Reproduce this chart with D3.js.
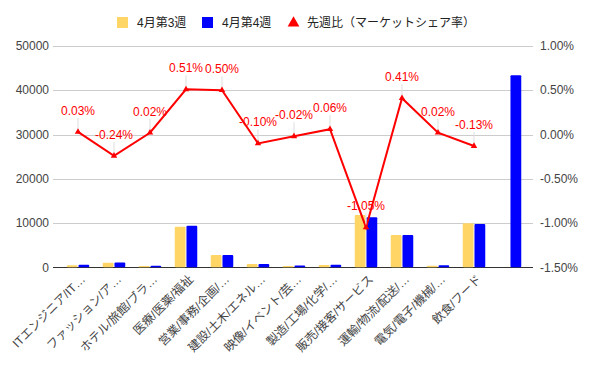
<!DOCTYPE html>
<html>
<head>
<meta charset="utf-8">
<script src="https://cdn.jsdelivr.net/npm/d3@7"></script>
<style>
  body { margin: 0; background: #fff; }
  text { font-family: "Liberation Sans", Arial, "Noto Sans CJK JP", sans-serif; }
</style>
</head>
<body>
<div id="chart"></div>
<script>
// categories (last one has no label)
const categories = ["ITエンジニア/IT…", "ファッション/ア…", "ホテル/旅館/ブラ…", "医療/医薬/福祉",
    "営業/事務/企画/…", "建設/土木/エネル…", "映像/イベント/芸…", "製造/工場/化学/…",
    "販売/接客/サービス", "運輸/物流/配送/…", "電気/電子/機械/…", "飲食/フード", ""];
const week3 = [450, 1050, 300, 9150, 2800, 750, 300, 500, 11800, 7300, 350, 9950, null];
const week4 = [550, 1100, 350, 9400, 2800, 750, 400, 580, 11300, 7300, 450, 9800, 43400];
const shareChange = [0.03, -0.24, 0.02, 0.51, 0.50, -0.10, -0.02, 0.06, -1.05, 0.41, 0.02, -0.13, null];
const leftTicks = [0, 10000, 20000, 30000, 40000, 50000];
const rightTicks = [-1.5, -1.0, -0.5, 0, 0.5, 1.0];
const seriesNames = ["4月第3週", "4月第4週", "先週比（マーケットシェア率）"];
const colors = ["#ffd666", "#0000ff", "#ff0000"];

const width = 592, height = 366;
const svg = d3.select("#chart").append("svg")
    .attr("width", width).attr("height", height);

// percent label with a plain hyphen for negatives
const pct = v => d3.format(".2f")(v).replace("\u2212", "-") + "%";

const gridLeft = 53, gridRight = 533;
const y = d3.scaleLinear().domain([0, 50000]).range([267.3, 46]);
const y2 = d3.scaleLinear().domain([-1.5, 1.0]).range([267.3, 46]);
const x0 = d3.scaleBand().domain(d3.range(categories.length)).range([60, 528]);
const x1 = d3.scaleBand().domain([0, 1]).range([0, 22.5]).paddingInner(0.08);
const groupOff = x0.bandwidth() / 2 - 11.25;

// gridlines
svg.append("g").selectAll("line").data(leftTicks).enter().append("line")
    .attr("x1", gridLeft).attr("x2", gridRight)
    .attr("y1", d => Math.round(y(d)) + 0.5).attr("y2", d => Math.round(y(d)) + 0.5)
    .attr("stroke", d => d === 0 ? "#333" : "#ccc").attr("stroke-width", 1);

// left axis labels
svg.append("g").selectAll("text").data(leftTicks).enter().append("text")
    .attr("x", 49).attr("y", d => y(d)).attr("dy", "0.35em")
    .attr("text-anchor", "end").attr("font-size", 12).attr("fill", "#444")
    .text(d => d);

// right axis labels
svg.append("g").selectAll("text").data(rightTicks).enter().append("text")
    .attr("x", 540).attr("y", d => y2(d)).attr("dy", "0.35em")
    .attr("text-anchor", "start").attr("font-size", 12).attr("fill", "#444")
    .text(pct);

// bars
const barData = [];
categories.forEach((c, i) => {
    [week3[i], week4[i]].forEach((v, s) => {
        if (v != null) barData.push({ i, s, v });
    });
});
svg.append("g").selectAll("rect").data(barData).enter().append("rect")
    .attr("x", d => x0(d.i) + groupOff + x1(d.s))
    .attr("width", x1.bandwidth())
    .attr("y", d => y(d.v))
    .attr("height", d => y(0) - y(d.v))
    .attr("rx", 1)
    .attr("fill", d => colors[d.s]);

// x labels
svg.append("g").selectAll("text").data(categories).enter().append("text")
    .attr("transform", (d, i) => `translate(${x0(i) + x0.bandwidth() / 2 + 5},${277}) rotate(-45)`)
    .attr("text-anchor", "end").attr("dy", "0.35em")
    .attr("font-size", 12).attr("fill", "#444")
    .text(d => d);

// line
const pts = shareChange.map((v, i) => ({ i, v })).filter(d => d.v != null);
const cx = d => x0(d.i) + x0.bandwidth() / 2;
svg.append("path").datum(pts)
    .attr("d", d3.line().x(cx).y(d => y2(d.v)))
    .attr("fill", "none").attr("stroke", colors[2]).attr("stroke-width", 2);

// annotation stems
svg.append("g").selectAll("line").data(pts).enter().append("line")
    .attr("x1", cx).attr("x2", cx)
    .attr("y1", d => y2(d.v) - 2).attr("y2", d => y2(d.v) - 14)
    .attr("stroke", "#ddd").attr("stroke-width", 1);

// point markers
svg.append("g").selectAll("path").data(pts).enter().append("path")
    .attr("transform", d => `translate(${cx(d)},${y2(d.v)})`)
    .attr("d", d3.symbol().type(d3.symbolTriangle).size(18))
    .attr("fill", colors[2]);

// annotation labels
svg.append("g").selectAll("text").data(pts).enter().append("text")
    .attr("x", cx).attr("y", d => y2(d.v) - 17)
    .attr("text-anchor", "middle").attr("font-size", 12).attr("fill", colors[2])
    .text(d => pct(d.v));

// legend
const legend = svg.append("g");
const legX = [117, 202, 288];
seriesNames.forEach((name, s) => {
    const g = legend.append("g").attr("transform", `translate(${legX[s]},17)`);
    if (s < 2) {
        g.append("rect").attr("width", 11).attr("height", 11).attr("fill", colors[s]);
    } else {
        g.append("path").attr("transform", "translate(5.5,6)")
            .attr("d", d3.symbol().type(d3.symbolTriangle).size(60)).attr("fill", colors[s]);
    }
    g.append("text").attr("x", s < 2 ? 20 : 19).attr("y", 5.5).attr("dy", "0.35em")
        .attr("font-size", 12).attr("fill", "#222").text(name);
});
</script>
</body>
</html>
